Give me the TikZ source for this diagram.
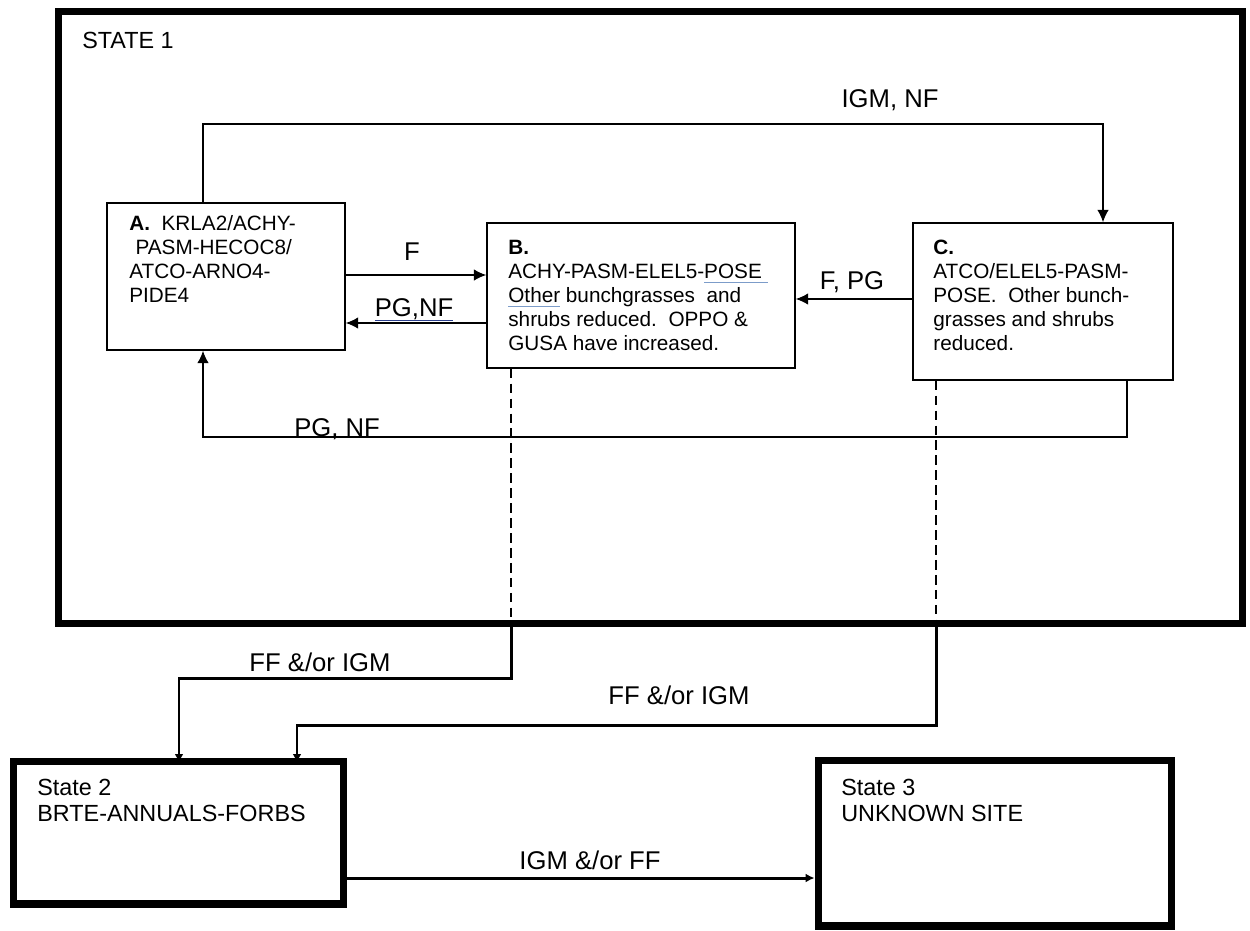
\documentclass[tikz,border=0pt]{standalone}
\usepackage{fontspec}
\setmainfont{Liberation Sans}
\usepackage{tikz}
\usetikzlibrary{arrows.meta}
\definecolor{spellBlue}{HTML}{7C9CC9}
\definecolor{grammarBlue}{HTML}{2B3F8C}
\newcommand{\spellmark}[2][spellBlue]{\setbox0\hbox{#2}\rlap{\color{#1}\vrule width\wd0 height -1.8pt depth 2.8pt}\box0\relax}
\tikzset{
  lbl/.style={font=\fontsize{14.6}{17}\selectfont, inner sep=0pt},
  sm/.style={font=\fontsize{11.8}{13.6}\selectfont},
  stl/.style={font=\fontsize{13.3}{14.7}\selectfont},
}

\begin{document}
\begin{tikzpicture}[x=0.02cm, y=-0.02cm,
  statebox/.style={draw, line width=4pt, inner sep=0pt},
  commbox/.style={draw, line width=0.85pt, inner sep=0pt},
  boxtext/.style={anchor=north west, inner sep=0pt, align=left},
  thinarr/.style={line width=0.85pt, -{Latex[length=7pt, width=6.5pt]}},
  thickarr/.style={line width=1.7pt, -{Latex[length=5pt, width=5pt]}},
  dashline/.style={line width=0.85pt, dash pattern=on 5.5pt off 3pt}]
  \useasboundingbox (0,0) rectangle (1250,930);
  % states
  \node[statebox, minimum width=23.7cm, minimum height=12.26cm] (st1) at (650.5,317.5) {};
  \node[statebox, minimum width=6.62cm, minimum height=2.86cm]  (st2) at (178.5,832.5) {};
  \node[statebox, minimum width=7.08cm, minimum height=3.32cm]  (st3) at (995,843) {};
  \node[boxtext, stl] (st1txt) at (82,32)  {STATE 1};
  \node[boxtext, stl] (st2txt) at (37,779) {State 2\\BRTE-ANNUALS-FORBS};
  \node[boxtext, stl] (st3txt) at (841,779) {State 3\\UNKNOWN SITE};
  % communities
  \node[commbox, minimum width=4.76cm, minimum height=2.94cm] (boxa) at (226,276.5) {};
  \node[commbox, minimum width=6.16cm, minimum height=2.9cm]  (boxb) at (641,295.5) {};
  \node[commbox, minimum width=5.2cm, minimum height=3.14cm]  (boxc) at (1043,301.5) {};
  \node[boxtext, sm] (atxt) at (129,215) {\textbf{A.}\ \ KRLA2/ACHY-\\\hspace{0.3em}PASM-HECOC8/\\ATCO-ARNO4-\\PIDE4};
  \node[boxtext, sm] (btxt) at (508,240) {\textbf{B.}\\ACHY-PASM-ELEL5-\spellmark{POSE\ }\\\spellmark{Other} bunchgrasses\ \ and\\shrubs reduced.\ \ OPPO \&\\GUSA have increased.};
  \node[boxtext, sm] (ctxt) at (933,240) {\textbf{C.}\\ATCO/ELEL5-PASM-\\POSE.\ \ Other bunch-\\grasses and shrubs\\reduced.};
  % pathways within state 1
  \coordinate (igmA) at (203,124);
  \coordinate (igmC) at (1103,124);
  \draw[thinarr] (boxa.north -| igmA) -- (igmA) -- (igmC) -- (boxc.north -| igmC);
  \node[lbl] (lignf) at (890,100) {IGM, NF};
  \draw[thinarr] (boxa.east |- 0,275) -- (boxb.west |- 0,275);
  \node[lbl] (lf) at (412,252) {F};
  \draw[thinarr] (boxb.west |- 0,323) -- (boxa.east |- 0,323);
  \node[lbl] (lpgnf) at (414,310) {\spellmark[grammarBlue]{PG,NF}};
  \draw[thinarr] (boxc.west |- 0,299) -- (boxb.east |- 0,299);
  \node[lbl] (lfpg) at (852,282) {F, PG};
  \coordinate (pgC) at (1127,437);
  \coordinate (pgA) at (203,437);
  \draw[thinarr] (boxc.south -| pgC) -- (pgC) -- (pgA) -- (boxa.south -| pgA);
  \node[lbl, anchor=base west] (lpgnf2) at (294,436) {PG, NF};
  % transitions
  \coordinate (tb) at (511,678);
  \coordinate (tbs) at (179,678);
  \draw[dashline] (boxb.south -| tb) -- (st1.south -| tb);
  \draw[thickarr, shorten >=-3pt] (st1.south -| tb) -- (tb) -- (tbs) -- (st2.north -| tbs);
  \node[lbl] (lffa) at (320,662) {FF \&/or IGM};
  \coordinate (tc) at (936,725);
  \coordinate (tcs) at (297,725);
  \draw[dashline] (boxc.south -| tc) -- (st1.south -| tc);
  \draw[thickarr, shorten >=-3pt] (st1.south -| tc) -- (tc) -- (tcs) -- (st2.north -| tcs);
  \node[lbl] (lffb) at (679,695) {FF \&/or IGM};
  \draw[thickarr] (st2.east |- 0,878) -- (st3.west |- 0,878);
  \node[lbl] (ligm) at (590,860) {IGM \&/or FF};
\end{tikzpicture}
\end{document}
